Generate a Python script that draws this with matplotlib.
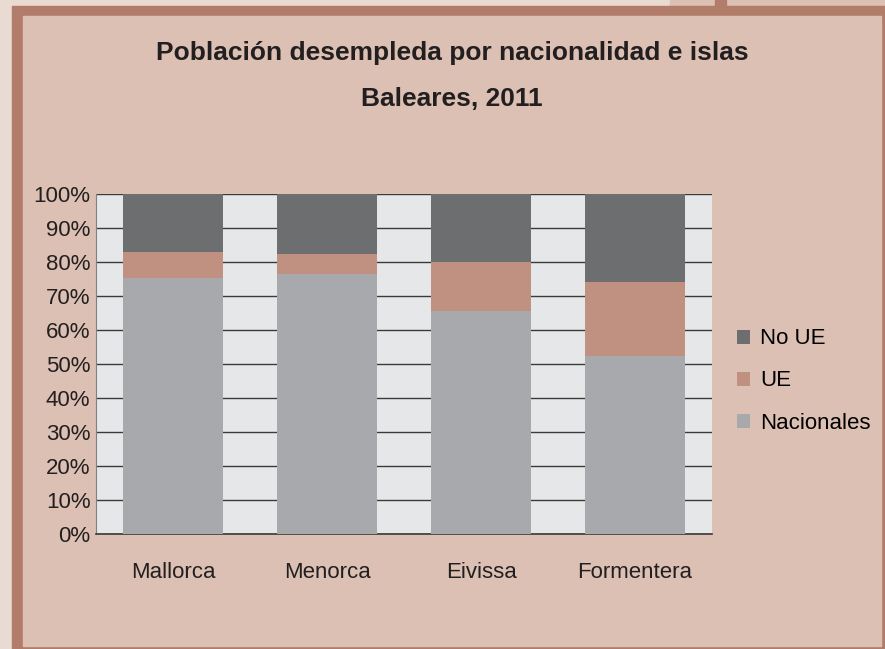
import matplotlib.pyplot as plt
import matplotlib.patches as patches
import numpy as np

plt.rcParams['font.family'] = ['Liberation Sans', 'DejaVu Sans']

islas = ["Mallorca", "Menorca", "Eivissa", "Formentera"]
nacionales = [75.3, 76.5, 65.6, 52.4]
ue = [7.6, 5.9, 14.4, 21.7]
no_ue = [17.1, 17.6, 20.0, 25.9]

W, H = 885, 649
fig = plt.figure(figsize=(W / 100, H / 100), dpi=100)
fig.patch.set_facecolor('#e9dad2')


def rect(x0, y0, x1, y1, color):
    # pixel coords, origin top-left
    fig.patches.append(patches.Rectangle((x0 / W, 1 - y1 / H), (x1 - x0) / W, (y1 - y0) / H,
                                         transform=fig.transFigure, color=color, zorder=0))


# frame
rect(670, 0, 885, 6, '#dbc0b3')
rect(715, 0, 726, 6, '#b27c6a')
rect(12, 6, 885, 649, '#b27c6a')
rect(23, 16, 881, 646, '#dbc0b3')

ax = fig.add_axes([96 / W, (H - 534) / H, (712 - 96) / W, (534 - 194) / H])
ax.set_zorder(2)
ax.set_facecolor('#e6e7e8')

x = np.arange(len(islas))
width = 0.65
b1 = ax.bar(x, nacionales, width, color='#a7a9ac', zorder=3, label='Nacionales')
b2 = ax.bar(x, ue, width, bottom=nacionales, color='#c09080', zorder=3, label='UE')
b3 = ax.bar(x, no_ue, width, bottom=np.add(nacionales, ue), color='#6d6e70', zorder=3, label='No UE')

ax.set_xlim(-0.5, 3.5)
ax.set_ylim(0, 100)
ax.set_yticks(np.arange(0, 101, 10))
ax.set_yticklabels([f"{v}%" for v in range(0, 101, 10)], fontsize=16, color='#231f20')
ax.set_xticks(x)
ax.set_xticklabels(islas, fontsize=16, color='#231f20')
ax.tick_params(axis='x', length=0, pad=20)
ax.tick_params(axis='y', length=0, pad=4)
ax.yaxis.grid(True, color='#3a3a3a', linewidth=1.0, zorder=1)
ax.set_axisbelow(True)
for s in ['top', 'right']:
    ax.spines[s].set_visible(False)
ax.spines['left'].set_color('#808080')
ax.spines['bottom'].set_color('#3a3a3a')
ax.spines['bottom'].set_linewidth(1.2)

fig.text(452 / W, 1 - 53 / H, "Población desempleda por nacionalidad e islas",
         ha='center', va='center', fontsize=19, fontweight='bold', color='#231f20')
fig.text(452 / W, 1 - 99 / H, "Baleares, 2011",
         ha='center', va='center', fontsize=19, fontweight='bold', color='#231f20')

ax.legend([b3, b2, b1], ['No UE', 'UE', 'Nacionales'], loc='center left',
          bbox_to_anchor=(737 / W, 1 - 381 / H), bbox_transform=fig.transFigure,
          frameon=False, fontsize=16, handlelength=0.59, handleheight=0.59,
          handletextpad=0.45, labelspacing=0.95, borderpad=0, borderaxespad=0)

fig.savefig('out.png', dpi=100, facecolor=fig.get_facecolor())
